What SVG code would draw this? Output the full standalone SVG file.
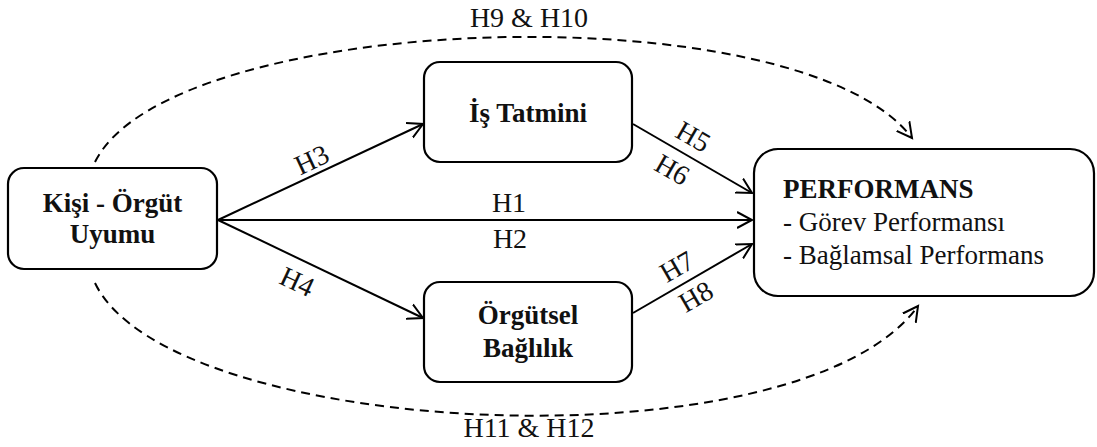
<svg xmlns="http://www.w3.org/2000/svg" width="1097" height="447" viewBox="0 0 1097 447">
<defs>
<style>
.box{fill:#fff;stroke:#000;stroke-width:2.2}
.bold{font-family:"Liberation Serif","Times New Roman",serif;font-weight:bold;font-size:27px;fill:#111}
.reg{font-family:"Liberation Serif","Times New Roman",serif;font-size:27px;fill:#111}
.lbl{font-family:"Liberation Serif","Times New Roman",serif;font-size:28px;fill:#111;text-anchor:middle}
.solid{fill:none;stroke:#000;stroke-width:2}
.dash{fill:none;stroke:#000;stroke-width:2;stroke-dasharray:9 6}
</style>
<marker id="arr" markerUnits="userSpaceOnUse" markerWidth="20" markerHeight="20" refX="15" refY="8" orient="auto" viewBox="0 0 20 16">
<path d="M0,0 L15,8 L0,16" fill="none" stroke="#000" stroke-width="2"/>
</marker>
</defs>
<rect width="1097" height="447" fill="#fff"/>
<g id="connectors">
<path class="dash" d="M95,162 C170,10 800,-10 912,138" marker-end="url(#arr)"/>
<path class="dash" d="M95,283 C170,440 800,470 918,306" marker-end="url(#arr)"/>
<line class="solid" x1="218" y1="220" x2="423" y2="124" marker-end="url(#arr)"/>
<line class="solid" x1="218" y1="220" x2="423" y2="318" marker-end="url(#arr)"/>
<line class="solid" x1="218" y1="220" x2="752" y2="220" marker-end="url(#arr)"/>
<line class="solid" x1="633" y1="124" x2="752" y2="193" marker-end="url(#arr)"/>
<line class="solid" x1="633" y1="313" x2="752" y2="244" marker-end="url(#arr)"/>
<text class="lbl" x="529" y="27">H9 &amp; H10</text>
<text class="lbl" x="529" y="437">H11 &amp; H12</text>
<text class="lbl" x="509" y="212">H1</text>
<text class="lbl" x="510" y="248">H2</text>
<text class="lbl" transform="translate(312,160) rotate(-25)" y="9">H3</text>
<text class="lbl" transform="translate(297,282) rotate(25)" y="9">H4</text>
<text class="lbl" transform="translate(693,137) rotate(30)" y="9">H5</text>
<text class="lbl" transform="translate(672,170) rotate(30)" y="9">H6</text>
<text class="lbl" transform="translate(677,267) rotate(-30)" y="9">H7</text>
<text class="lbl" transform="translate(696,297) rotate(-30)" y="9">H8</text>
</g>
<g id="node-kisi">
<rect class="box" x="8" y="168" width="209" height="101" rx="16"/>
<text class="bold" x="112.5" y="212" text-anchor="middle">Kişi - Örgüt</text>
<text class="bold" x="112.5" y="243" text-anchor="middle">Uyumu</text>
</g>
<g id="node-is">
<rect class="box" x="424" y="62" width="208" height="100" rx="16"/>
<text class="bold" x="528" y="122" text-anchor="middle">İş Tatmini</text>
</g>
<g id="node-orgutsel">
<rect class="box" x="424" y="282" width="208" height="100" rx="16"/>
<text class="bold" x="528" y="324" text-anchor="middle">Örgütsel</text>
<text class="bold" x="528" y="357" text-anchor="middle">Bağlılık</text>
</g>
<g id="node-performans">
<rect class="box" x="754" y="149" width="340" height="147" rx="24"/>
<text class="bold" x="783" y="198">PERFORMANS</text>
<text class="reg" x="783" y="231">- Görev Performansı</text>
<text class="reg" x="783" y="264">- Bağlamsal Performans</text>
</g>
</svg>
